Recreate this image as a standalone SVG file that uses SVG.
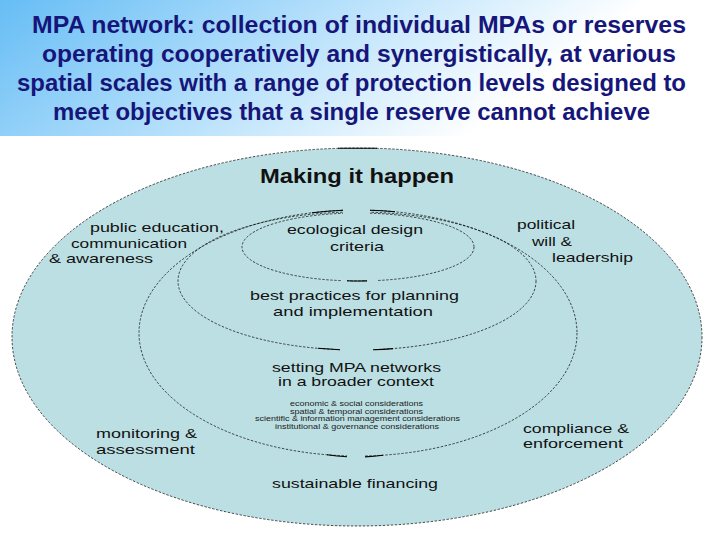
<svg xmlns="http://www.w3.org/2000/svg" width="720" height="540" viewBox="0 0 720 540">
  <defs>
    <linearGradient id="sky" x1="0" y1="0" x2="1" y2="0.25">
      <stop offset="0" stop-color="#66bdf5"/>
      <stop offset="0.45" stop-color="#b6e0fb"/>
      <stop offset="0.85" stop-color="#ffffff"/>
    </linearGradient>
  </defs>
  <style>
    .ring { fill: #bcdfe3; stroke: #000; stroke-width: 0.7; stroke-dasharray: 2.4 1.6; }
    .inner { fill: none; stroke: #000; stroke-width: 0.7; stroke-dasharray: 2.4 1.6; }
    .long { fill: none; stroke: #000; stroke-width: 1.1; }
    .gap { fill: #bcdfe3; stroke: none; }
    .title { font-family: "Liberation Sans", Arial, sans-serif; font-weight: bold; font-size: 23px; fill: #16167a; }
    .lbl { font-family: "Liberation Sans", Arial, sans-serif; font-size: 13.5px; fill: #111; }
    .head { font-family: "Liberation Sans", Arial, sans-serif; font-weight: bold; font-size: 20px; fill: #111; }
    .tiny { font-family: "Liberation Sans", Arial, sans-serif; font-size: 7.5px; fill: #222; }
  </style>

  <rect x="0" y="0" width="720" height="540" fill="#ffffff"/>
  <rect x="0" y="0" width="720" height="136" fill="url(#sky)"/>

  <g id="title">
    <text class="title" x="32" y="33" textLength="654" lengthAdjust="spacingAndGlyphs">MPA network: collection of individual MPAs or reserves</text>
    <text class="title" x="42" y="62" textLength="634" lengthAdjust="spacingAndGlyphs">operating cooperatively and synergistically, at various</text>
    <text class="title" x="17" y="91" textLength="669" lengthAdjust="spacingAndGlyphs">spatial scales with a range of protection levels designed to</text>
    <text class="title" x="53" y="120" textLength="597" lengthAdjust="spacingAndGlyphs">meet objectives that a single reserve cannot achieve</text>
  </g>

  <g id="ring-making-it-happen">
    <ellipse class="ring" cx="357" cy="337" rx="345" ry="189"/>
    <line class="long" x1="338" y1="148.2" x2="377" y2="148.2"/>
  </g>

  <g id="ring-broader-context">
    <ellipse class="inner" cx="358" cy="333" rx="219" ry="123"/>
  </g>

  <g id="ring-best-practices">
    <ellipse class="inner" cx="357" cy="281" rx="179" ry="69"/>
  </g>

  <g id="ring-ecological">
    <ellipse class="inner" cx="358" cy="247" rx="116" ry="34"/>
  </g>

  <g id="ring-breaks">
    <rect class="gap" x="343" y="204" width="27" height="13"/>
    <path class="long" d="M312 212.7 A219 123 0 0 1 343 210.3"/>
    <path class="long" d="M370 210.2 A219 123 0 0 1 395 211.8"/>
    <rect class="gap" x="347" y="452" width="18" height="9"/>
    <path class="long" d="M347 456.8 A219 123 0 0 1 327 454.8"/>
    <path class="long" d="M383 455.2 A219 123 0 0 1 365 456.9"/>
    <rect class="gap" x="340" y="345" width="33" height="9"/>
    <path class="long" d="M340 349.7 A179 69 0 0 1 318 348.3"/>
    <path class="long" d="M393 348.6 A179 69 0 0 1 373 349.7"/>
    <rect class="gap" x="367" y="277" width="11" height="8"/>
    <rect class="gap" x="341" y="277" width="6" height="8"/>
    <path class="long" d="M367 280.9 A116 34 0 0 1 347 280.8"/>
  </g>

  <g id="label-making-it-happen">
    <text class="head" x="260" y="183" textLength="194" lengthAdjust="spacingAndGlyphs">Making it happen</text>
  </g>
  <g id="label-public-education">
    <text class="lbl" x="90" y="232" textLength="134" lengthAdjust="spacingAndGlyphs">public education,</text>
    <text class="lbl" x="71" y="247.5" textLength="116" lengthAdjust="spacingAndGlyphs">communication</text>
    <text class="lbl" x="49" y="263" textLength="104" lengthAdjust="spacingAndGlyphs">&amp; awareness</text>
  </g>
  <g id="label-political-will">
    <text class="lbl" x="517" y="229" textLength="58" lengthAdjust="spacingAndGlyphs">political</text>
    <text class="lbl" x="532" y="245.5" textLength="40" lengthAdjust="spacingAndGlyphs">will &amp;</text>
    <text class="lbl" x="552" y="262" textLength="81" lengthAdjust="spacingAndGlyphs">leadership</text>
  </g>
  <g id="label-ecological">
    <text class="lbl" x="287" y="234" textLength="136" lengthAdjust="spacingAndGlyphs">ecological design</text>
    <text class="lbl" x="330" y="251" textLength="54" lengthAdjust="spacingAndGlyphs">criteria</text>
  </g>
  <g id="label-best-practices">
    <text class="lbl" x="250" y="300" textLength="209" lengthAdjust="spacingAndGlyphs">best practices for planning</text>
    <text class="lbl" x="273" y="316" textLength="160" lengthAdjust="spacingAndGlyphs">and implementation</text>
  </g>
  <g id="label-broader-context">
    <text class="lbl" x="272" y="372" textLength="169" lengthAdjust="spacingAndGlyphs">setting MPA networks</text>
    <text class="lbl" x="278" y="386" textLength="156" lengthAdjust="spacingAndGlyphs">in a broader context</text>
    <text class="tiny" x="290" y="406" textLength="133" lengthAdjust="spacingAndGlyphs">economic &amp; social considerations</text>
    <text class="tiny" x="290" y="413.5" textLength="133" lengthAdjust="spacingAndGlyphs">spatial &amp; temporal considerations</text>
    <text class="tiny" x="255" y="421" textLength="205" lengthAdjust="spacingAndGlyphs">scientific &amp; information management considerations</text>
    <text class="tiny" x="275" y="428.5" textLength="164" lengthAdjust="spacingAndGlyphs">institutional &amp; governance considerations</text>
  </g>
  <g id="label-monitoring">
    <text class="lbl" x="96" y="438" textLength="101" lengthAdjust="spacingAndGlyphs">monitoring &amp;</text>
    <text class="lbl" x="96" y="454" textLength="99" lengthAdjust="spacingAndGlyphs">assessment</text>
  </g>
  <g id="label-compliance">
    <text class="lbl" x="523" y="433" textLength="106" lengthAdjust="spacingAndGlyphs">compliance &amp;</text>
    <text class="lbl" x="523" y="448" textLength="100" lengthAdjust="spacingAndGlyphs">enforcement</text>
  </g>
  <g id="label-sustainable-financing">
    <text class="lbl" x="272" y="488" textLength="166" lengthAdjust="spacingAndGlyphs">sustainable financing</text>
  </g>
</svg>
